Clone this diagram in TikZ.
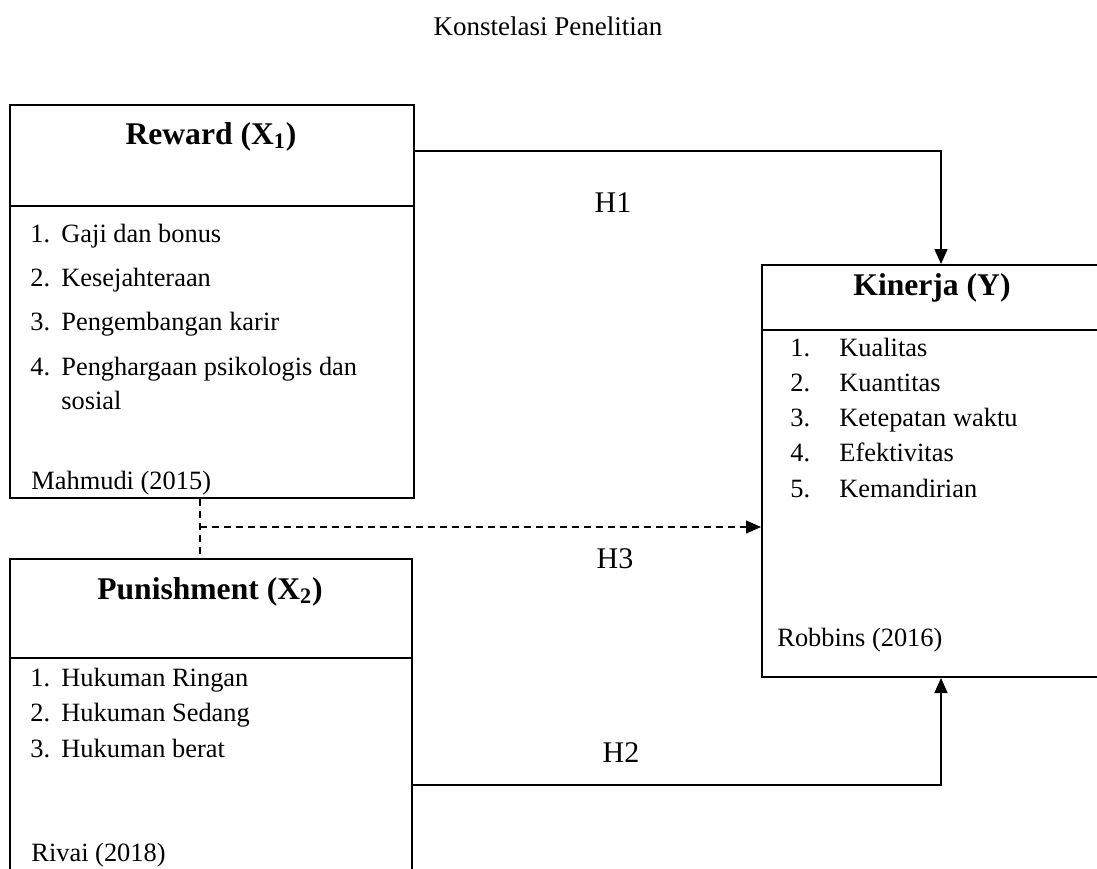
\documentclass[tikz,border=0pt]{standalone}
\usepackage{fontspec}
\setmainfont{Liberation Serif}
\usetikzlibrary{positioning,arrows.meta}

\newcommand{\numbox}[2]{\makebox[#1][l]{#2}}

\tikzset{
  box/.style={draw, line width=1pt, rectangle, inner sep=0pt},
  sepline/.style={line width=1pt},
  link/.style={line width=0.7pt, -{Triangle[length=7.5pt,width=6.5pt]}},
  dline/.style={line width=0.7pt, dash pattern=on 3.5pt off 2.5pt},
  txt/.style={anchor=base west, inner sep=0pt, font=\fontsize{13.2}{16}\selectfont},
  head/.style={anchor=base, inner sep=0pt, font=\fontsize{15.8}{19}\selectfont\bfseries},
  hyp/.style={anchor=base, inner sep=0pt, font=\fontsize{15}{18}\selectfont},
}

\begin{document}
\begin{tikzpicture}[x=0.5pt, y=-0.5pt]
    \useasboundingbox (0,0) rectangle (1097,868);
    \clip (0,0) rectangle (1097,868);

    % Title
    \node[anchor=base, inner sep=0pt, font=\fontsize{13.5}{16}\selectfont] (title) at (548,35) {Konstelasi Penelitian};

    % Reward box
    \node[box, minimum width=202pt, minimum height=196.5pt] (reward) at (212,301.5) {};
    \draw[sepline] ([yshift=-51pt]reward.north west) -- ([yshift=-51pt]reward.north east);
    \node[head] (rewardhead) at (211,144) {Reward (X\textsubscript{1})};
    \node[txt] (rw1) at (30,242) {\numbox{15.5pt}{1.}Gaji dan bonus};
    \node[txt] (rw2) at (30,286) {\numbox{15.5pt}{2.}Kesejahteraan};
    \node[txt] (rw3) at (30,330) {\numbox{15.5pt}{3.}Pengembangan karir};
    \node[txt] (rw4) at (30,375) {\numbox{15.5pt}{4.}Penghargaan psikologis dan};
    \node[txt] (rw4b) at (61,409) {sosial};
    \node[txt] (rwsrc) at (31,489) {Mahmudi (2015)};

    % Punishment box
    \node[box, minimum width=201pt, minimum height=170.5pt] (punish) at (211,729.5) {};
    \draw[sepline] ([yshift=-50pt]punish.north west) -- ([yshift=-50pt]punish.north east);
    \node[head] (punishhead) at (210,599) {Punishment (X\textsubscript{2})};
    \node[txt] (pn1) at (30,686) {\numbox{15.5pt}{1.}Hukuman Ringan};
    \node[txt] (pn2) at (30,721) {\numbox{15.5pt}{2.}Hukuman Sedang};
    \node[txt] (pn3) at (30,757) {\numbox{15.5pt}{3.}Hukuman berat};
    \node[txt] (pnsrc) at (31,861) {Rivai (2018)};

    % Kinerja box
    \node[box, minimum width=179pt, minimum height=206pt] (kinerja) at (941,471) {};
    \draw[sepline] ([yshift=-33pt]kinerja.north west) -- ([yshift=-33pt]kinerja.north east);
    \node[head] (kinerjahead) at (932,295) {Kinerja (Y)};
    \node[txt] (kn1) at (790,356) {\numbox{24.5pt}{1.}Kualitas};
    \node[txt] (kn2) at (790,391) {\numbox{24.5pt}{2.}Kuantitas};
    \node[txt] (kn3) at (790,426) {\numbox{24.5pt}{3.}Ketepatan waktu};
    \node[txt] (kn4) at (790,461) {\numbox{24.5pt}{4.}Efektivitas};
    \node[txt] (kn5) at (790,497) {\numbox{24.5pt}{5.}Kemandirian};
    \node[txt] (knsrc) at (777,646) {Robbins (2016)};

    % Hypothesis links
    \draw[link] ([yshift=-23.5pt]reward.north east) -| (kinerja.north);
    \draw[link] ([yshift=-113.5pt]punish.north east) -| (kinerja.south);
    \coordinate (hub) at (200,527);
    \draw[dline] (reward.south -| hub) -- (punish.north -| hub);
    \draw[dline, -{Triangle[length=7.5pt,width=6.5pt]}] (hub) -- (kinerja.west |- hub);

    % Labels
    \node[hyp] (h1) at (613,212) {H1};
    \node[hyp] (h3) at (615,568) {H3};
    \node[hyp] (h2) at (621,762) {H2};
\end{tikzpicture}
\end{document}
